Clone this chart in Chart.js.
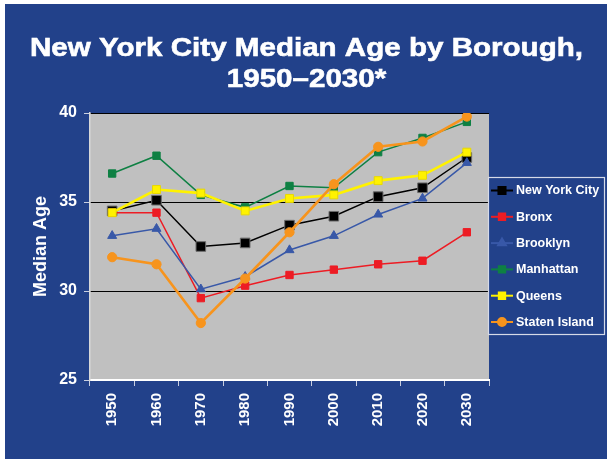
<!DOCTYPE html>
<html><head><meta charset="utf-8">
<script src="https://cdn.jsdelivr.net/npm/chart.js@4"></script>
<style>html,body{margin:0;padding:0;background:#fff;overflow:hidden;}</style>
</head><body>
<canvas id="c" width="607" height="459"></canvas>
<script>
const years = ['1950','1960','1970','1980','1990','2000','2010','2020','2030'];
const nyc       = [34.5, 35.1, 32.5, 32.7, 33.7, 34.2, 35.3, 35.8, 37.5];
const bronx     = [34.4, 34.4, 29.6, 30.3, 30.9, 31.2, 31.5, 31.7, 33.3];
const brooklyn  = [33.1, 33.5, 30.1, 30.8, 32.3, 33.1, 34.3, 35.2, 37.2];
const manhattan = [36.6, 37.6, 35.4, 34.7, 35.9, 35.8, 37.8, 38.6, 39.5];
const queens    = [34.4, 35.7, 35.5, 34.5, 35.2, 35.4, 36.2, 36.5, 37.8];
const staten    = [31.9, 31.5, 28.2, 30.7, 33.3, 36.0, 38.1, 38.4, 39.8];
const yMin = 25, yMax = 40, yStep = 5;
const titleLines = ['New York City Median Age by Borough,', '1950\u20132030*'];
const yTitle = 'Median Age';

const FONT = "'Liberation Sans', Arial, sans-serif";
const BLUE = '#22418A';

const bgPlugin = {
  id: 'bg',
  beforeDraw(chart) {
    const ctx = chart.ctx, a = chart.chartArea;
    ctx.save();
    ctx.fillStyle = '#fff';
    ctx.fillRect(0, 0, chart.width, chart.height);
    ctx.fillStyle = BLUE;
    ctx.fillRect(5, 4, chart.width - 5, chart.height - 4);
    ctx.fillStyle = '#C0C0C0';
    ctx.fillRect(a.left, a.top, a.right - a.left, a.bottom - a.top);
    // title
    ctx.fillStyle = '#fff';
    ctx.font = 'bold 26px ' + FONT;
    ctx.textAlign = 'center';
    ctx.textBaseline = 'alphabetic';
    const w = ctx.measureText(titleLines[0]).width;
    const sx = 553 / w;
    const cx = 306.5;
    [56, 87].forEach((y, i) => {
      ctx.save();
      ctx.translate(cx, y);
      ctx.scale(sx, 1);
      ctx.strokeStyle = '#fff';
      ctx.lineWidth = 0.6;
      ctx.fillText(titleLines[i], 0, 0);
      ctx.strokeText(titleLines[i], 0, 0);
      ctx.restore();
    });
    ctx.restore();
  }
};

const legendPlugin = {
  id: 'customLegend',
  afterDraw(chart) {
    const ctx = chart.ctx;
    const bx = 488, by = 177, bw = 116, bh = 157;
    ctx.save();
    ctx.strokeStyle = '#D6DAE8';
    ctx.lineWidth = 1.2;
    ctx.strokeRect(bx + 0.5, by + 0.5, bw, bh);
    const dsets = chart.data.datasets;
    const spacing = 26.3;
    dsets.forEach((ds, i) => {
      const y = by + 13.5 + i * spacing;
      ctx.strokeStyle = ds.borderColor;
      ctx.lineWidth = 2;
      ctx.beginPath();
      ctx.moveTo(491, y);
      ctx.lineTo(513, y);
      ctx.stroke();
      ctx.fillStyle = ds.pointBackgroundColor;
      ctx.strokeStyle = ds.pointBackgroundColor;
      Chart.helpers.drawPoint(ctx, {
        pointStyle: ds.pointStyle,
        radius: ds.legendRadius,
        rotation: 0,
        borderWidth: 1
      }, 502, y);
      ctx.fillStyle = '#fff';
      ctx.font = 'bold 12.5px ' + FONT;
      ctx.textAlign = 'left';
      ctx.textBaseline = 'middle';
      ctx.fillText(ds.label, 516, y + 0.5);
    });
    ctx.restore();
  }
};

function mk(label, data, color, style, r, lw, order, border, lr) {
  return {
    label, data,
    borderColor: color,
    backgroundColor: color,
    pointBackgroundColor: color,
    pointBorderColor: border || color,
    pointBorderWidth: 1,
    pointStyle: style,
    pointRadius: r,
    pointHoverRadius: r,
    borderWidth: lw,
    tension: 0,
    fill: false,
    order,
    legendRadius: lr
  };
}

new Chart(document.getElementById('c'), {
  type: 'line',
  data: {
    labels: years,
    datasets: [
      mk('New York City', nyc, '#000000', 'rect', 6.8, 1.5, 6, '#6a6a6a', 5),
      mk('Bronx', bronx, '#ED1C24', 'rect', 5.2, 1.5, 5, null, 4.5),
      mk('Brooklyn', brooklyn, '#3858A8', 'triangle', 5.2, 1.5, 4, null, 4.5),
      mk('Manhattan', manhattan, '#0E8043', 'rect', 5.2, 1.5, 3, null, 4.5),
      mk('Queens', queens, '#FFF200', 'rect', 5.6, 2.6, 2, '#E8D800', 4.5),
      mk('Staten Island', staten, '#F7941D', 'circle', 4.6, 2.6, 1, null, 4)
    ]
  },
  options: {
    responsive: false,
    animation: false,
    devicePixelRatio: 1,
    layout: { padding: { top: 113, right: 118, bottom: 0, left: 0 } },
    plugins: {
      legend: { display: false },
      title: { display: false },
      tooltip: { enabled: false }
    },
    scales: {
      x: {
        type: 'category',
        offset: true,
        grid: {
          offset: true,
          drawOnChartArea: false,
          drawTicks: true,
          tickLength: 6,
          tickColor: '#C9CFE0',
          lineWidth: 1
        },
        border: { display: true, color: '#ffffff', width: 2 },
        ticks: {
          color: '#ffffff',
          font: { family: FONT, weight: 'bold', size: 15 },
          minRotation: 90,
          maxRotation: 90,
          padding: 7,
          autoSkip: false
        },
        afterFit(s) { s.height = 79; }
      },
      y: {
        min: yMin,
        max: yMax,
        ticks: {
          stepSize: yStep,
          color: '#ffffff',
          font: { family: FONT, weight: 'bold', size: 16 },
          padding: 7
        },
        grid: {
          color: (c) => (c.tick && c.tick.value === yMin) ? 'rgba(0,0,0,0)' : '#000000',
          tickColor: '#C9CFE0',
          tickLength: 6,
          lineWidth: 1
        },
        border: { display: true, color: '#D8D8D8', width: 1.5 },
        title: {
          display: true,
          text: yTitle,
          color: '#ffffff',
          font: { family: FONT, weight: 'bold', size: 18 },
          padding: { top: 30, bottom: 0 }
        },
        afterFit(s) { s.width = 90; }
      }
    }
  },
  plugins: [bgPlugin, legendPlugin]
});
</script>
</body></html>
